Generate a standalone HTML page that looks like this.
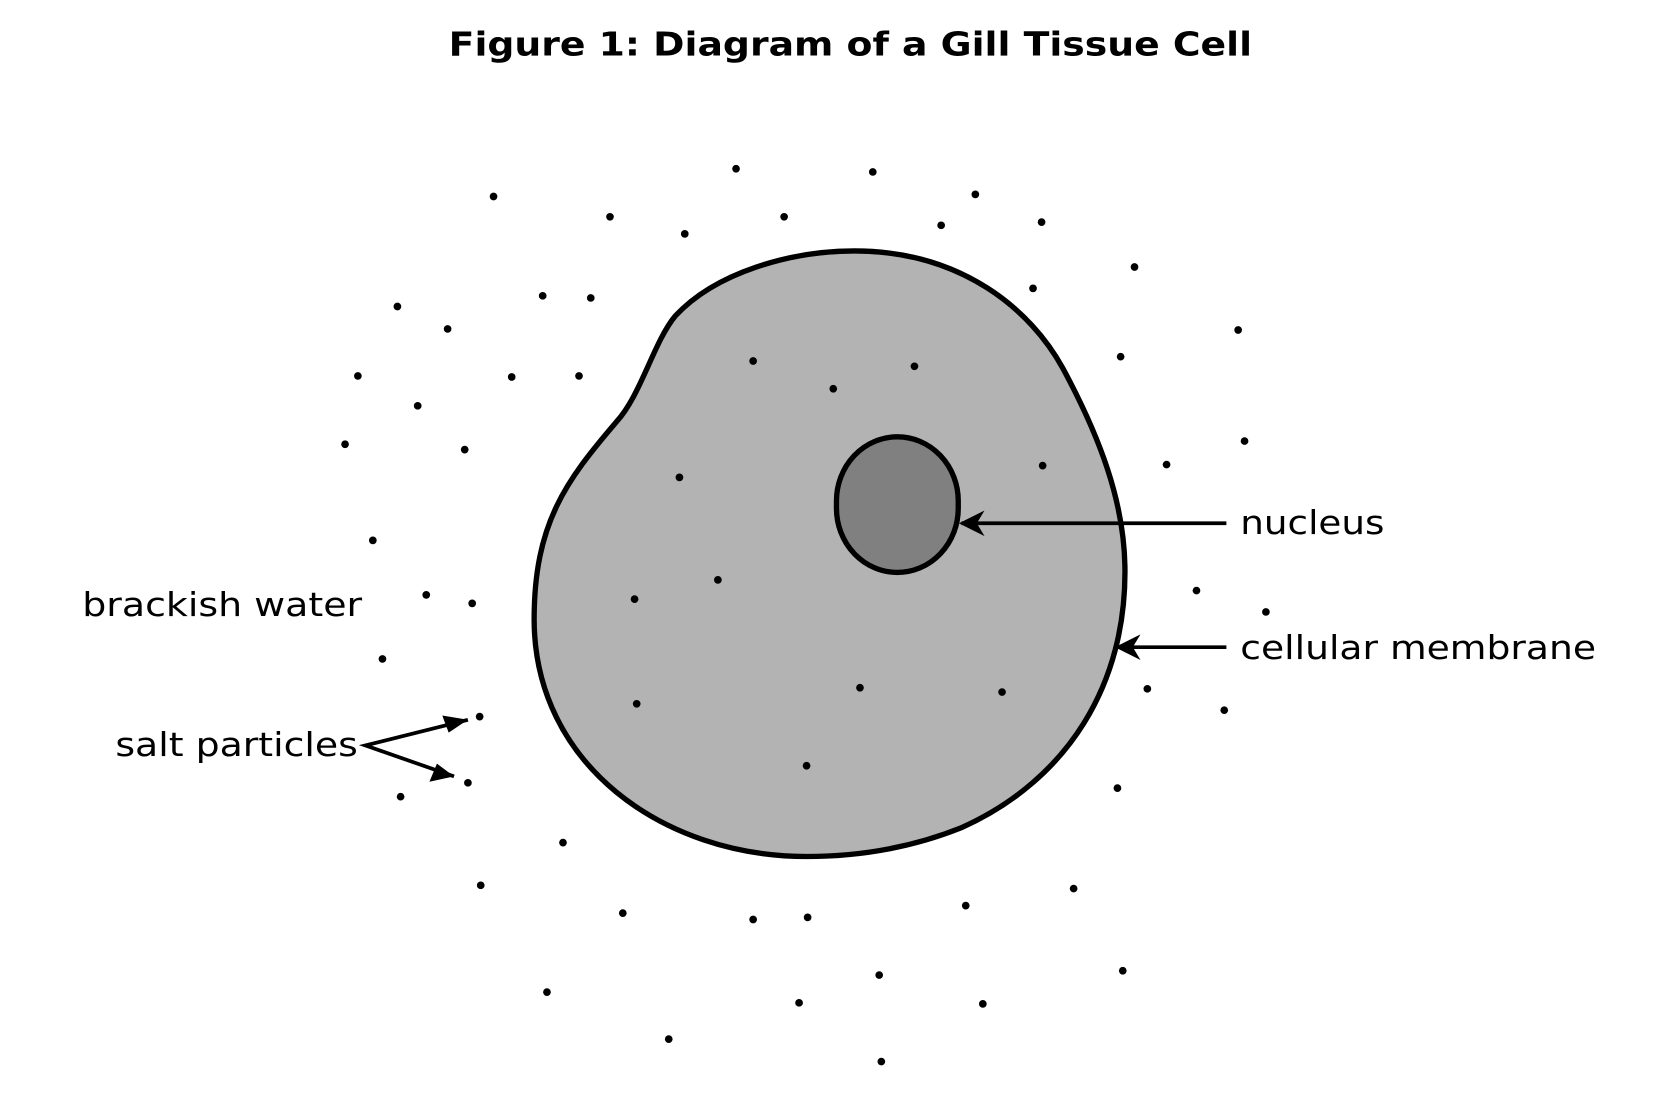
<!DOCTYPE html>
<html><head><meta charset="utf-8"><style>html,body{margin:0;padding:0;background:#fff;}svg{display:block}</style></head>
<body>
<svg width="1674" height="1100" viewBox="0 0 1567 1030" preserveAspectRatio="none" xmlns="http://www.w3.org/2000/svg">
<defs>
<marker id="a2" viewBox="0 0 10 10" refX="9" refY="5" markerWidth="24" markerHeight="24" orient="auto" markerUnits="userSpaceOnUse"><path d="M0,0 L10,5 L0,10 L3,5 Z" fill="#000"/></marker></defs>
<text x="796" y="52" text-anchor="middle" font-family="DejaVu Sans, sans-serif" font-weight="bold" font-size="31" textLength="752" lengthAdjust="spacingAndGlyphs">Figure 1: Diagram of a Gill Tissue Cell</text>
<path d="M577,395 C600,370 612,320 632,296 C670,255 740,235 800,235 C900,235 965,290 995,345 C1030,410 1052,470 1053,530 C1055,640 1000,730 900,775 C850,795 800,802 755,802 C620,802 500,715 500,580 C500,490 530,450 577,395 Z" fill="#b3b3b3" stroke="#000" stroke-width="5"/>
<rect x="783" y="409" width="114" height="127" rx="57" ry="60" fill="#808080" stroke="#000" stroke-width="5"/>
<g stroke="#000" stroke-width="3.5" fill="none">
<line x1="1148" y1="490" x2="900" y2="490" marker-end="url(#a2)"/>
<line x1="1148" y1="606" x2="1046" y2="606" marker-end="url(#a2)"/>
<polyline points="438,674 342,698 425,727"/>
</g>
<path d="M438,674 L414,670 L420,686 Z" fill="#000"/>
<path d="M425,727 L402,732 L409,715 Z" fill="#000"/>
<g font-family="DejaVu Sans, sans-serif" font-size="31" fill="#000">
<text x="1161" y="500" textLength="135" lengthAdjust="spacingAndGlyphs">nucleus</text>
<text x="1161" y="617" textLength="333" lengthAdjust="spacingAndGlyphs">cellular membrane</text>
<text x="77" y="577" textLength="262" lengthAdjust="spacingAndGlyphs">brackish water</text>
<text x="108" y="708" textLength="227" lengthAdjust="spacingAndGlyphs">salt particles</text>
</g>
<g fill="#000">
<circle cx="689" cy="158" r="3.6"/><circle cx="817" cy="161" r="3.6"/><circle cx="462" cy="184" r="3.6"/><circle cx="913" cy="182" r="3.6"/>
<circle cx="571" cy="203" r="3.6"/><circle cx="734" cy="203" r="3.6"/><circle cx="641" cy="219" r="3.6"/><circle cx="881" cy="211" r="3.6"/><circle cx="975" cy="208" r="3.6"/>
<circle cx="1062" cy="250" r="3.6"/><circle cx="508" cy="277" r="3.6"/><circle cx="553" cy="279" r="3.6"/><circle cx="967" cy="270" r="3.6"/>
<circle cx="372" cy="287" r="3.6"/><circle cx="419" cy="308" r="3.6"/><circle cx="1159" cy="309" r="3.6"/><circle cx="1049" cy="334" r="3.6"/>
<circle cx="705" cy="338" r="3.6"/><circle cx="856" cy="343" r="3.6"/><circle cx="335" cy="352" r="3.6"/><circle cx="479" cy="353" r="3.6"/><circle cx="542" cy="352" r="3.6"/>
<circle cx="780" cy="364" r="3.6"/><circle cx="391" cy="380" r="3.6"/><circle cx="323" cy="416" r="3.6"/><circle cx="435" cy="421" r="3.6"/><circle cx="1165" cy="413" r="3.6"/>
<circle cx="976" cy="436" r="3.6"/><circle cx="1092" cy="435" r="3.6"/><circle cx="636" cy="447" r="3.6"/><circle cx="349" cy="506" r="3.6"/>
<circle cx="672" cy="543" r="3.6"/><circle cx="1120" cy="553" r="3.6"/><circle cx="399" cy="557" r="3.6"/><circle cx="442" cy="565" r="3.6"/><circle cx="594" cy="561" r="3.6"/>
<circle cx="1185" cy="573" r="3.6"/><circle cx="358" cy="617" r="3.6"/><circle cx="805" cy="644" r="3.6"/><circle cx="1074" cy="645" r="3.6"/><circle cx="938" cy="648" r="3.6"/>
<circle cx="596" cy="659" r="3.6"/><circle cx="1146" cy="665" r="3.6"/><circle cx="449" cy="671" r="3.6"/><circle cx="755" cy="717" r="3.6"/>
<circle cx="438" cy="733" r="3.6"/><circle cx="375" cy="746" r="3.6"/><circle cx="1046" cy="738" r="3.6"/><circle cx="527" cy="789" r="3.6"/>
<circle cx="450" cy="829" r="3.6"/><circle cx="1005" cy="832" r="3.6"/><circle cx="904" cy="848" r="3.6"/><circle cx="583" cy="855" r="3.6"/><circle cx="705" cy="861" r="3.6"/><circle cx="756" cy="859" r="3.6"/>
<circle cx="1051" cy="909" r="3.6"/><circle cx="823" cy="913" r="3.6"/><circle cx="512" cy="929" r="3.6"/><circle cx="748" cy="939" r="3.6"/><circle cx="920" cy="940" r="3.6"/>
<circle cx="626" cy="973" r="3.6"/><circle cx="825" cy="994" r="3.6"/>
</g>
</svg>
</body></html>
